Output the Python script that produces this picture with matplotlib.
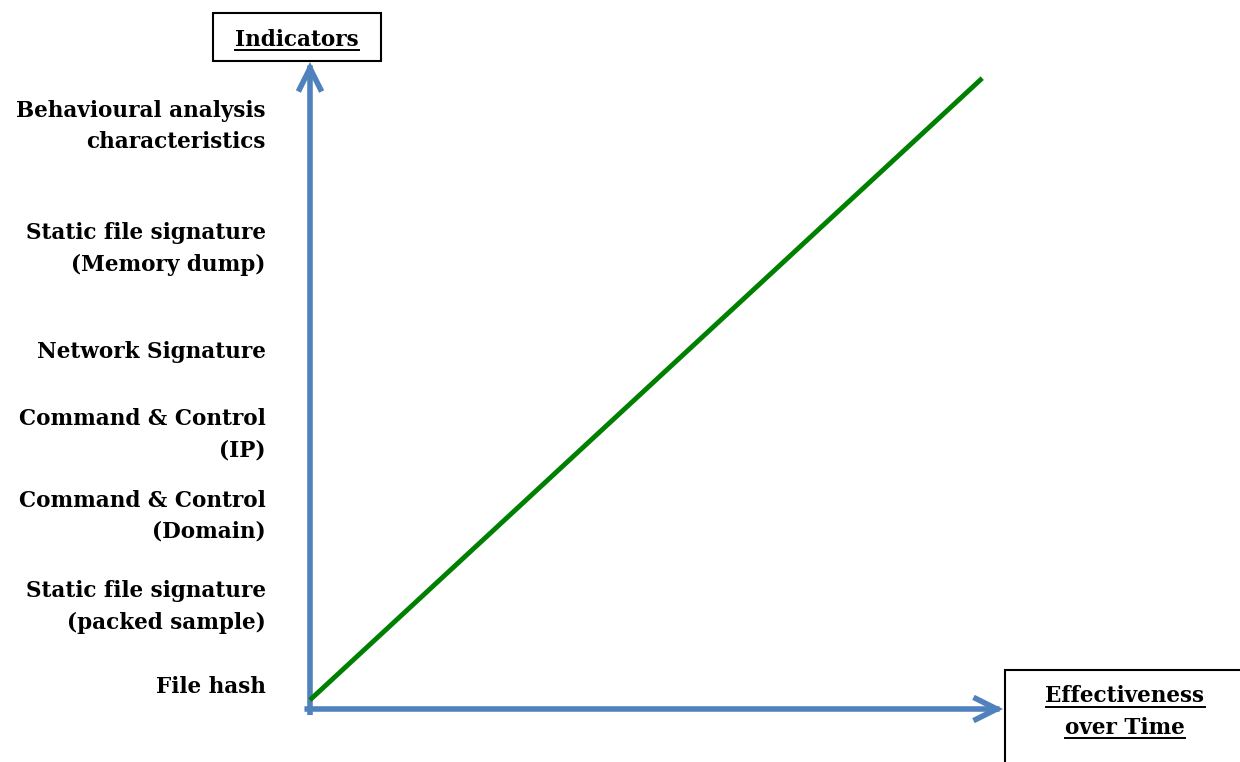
import matplotlib
matplotlib.use("Agg")
import matplotlib.pyplot as plt
from matplotlib.patches import Rectangle
from matplotlib.lines import Line2D

# indicator labels, bottom to top, with their height on the y axis (0..1)
indicators = ["File hash",
              "Static file signature\n(packed sample)",
              "Command & Control\n(Domain)",
              "Command & Control\n(IP)",
              "Network Signature",
              "Static file signature\n(Memory dump)",
              "Behavioural analysis\ncharacteristics"]
indicator_pos = [0.034, 0.158, 0.298, 0.424, 0.552, 0.711, 0.900]

# the trend line: effectiveness (x) against indicator level (y)
trend_x = [0.0, 0.970]
trend_y = [0.014, 0.975]

y_title = "Indicators"
x_title = "Effectiveness\nover Time"

W, H = 1240, 762
FONT = "DejaVu Serif"
BLUE = "#4F81BD"
FS = 15.5


def px(x, y):
    # pixel position (from top-left) to figure fraction
    return x / W, 1 - y / H


def boxed_title(fig, text, center, box):
    x0, y0, x1, y1 = box
    fx0, fy1 = px(x0, y0)
    fx1, fy0 = px(x1, y1)
    fig.patches.append(Rectangle((fx0, fy0), fx1 - fx0, fy1 - fy0,
                                 transform=fig.transFigure, fill=False,
                                 edgecolor="black", linewidth=1.5))
    cx, cy = px(*center)
    lines = text.split("\n")
    step = 31 / H
    top = cy + step * (len(lines) - 1) / 2
    texts = []
    for i, line in enumerate(lines):
        t = fig.text(cx, top - i * step, line, ha="center", va="center",
                     fontsize=FS, fontweight="bold", family=FONT)
        texts.append(t)
    return texts


def underline(fig, texts):
    fig.canvas.draw()
    r = fig.canvas.get_renderer()
    inv = fig.transFigure.inverted()
    for t in texts:
        bb = t.get_window_extent(r)
        (a, b), (c, d) = inv.transform([(bb.x0, bb.y0 + 1), (bb.x1, bb.y0 + 1)])
        fig.lines.append(Line2D([a, c], [b, d], transform=fig.transFigure,
                                color="black", linewidth=1.4))


fig = plt.figure(figsize=(12.4, 7.62), dpi=100)
left, top = px(310, 62)
right, bottom = px(1003, 709)
ax = fig.add_axes([left, bottom, right - left, top - bottom])
ax.set_xlim(0, 1)
ax.set_ylim(0, 1)
for s in ax.spines.values():
    s.set_visible(False)
ax.set_xticks([])
ax.set_yticks(indicator_pos)
ax.set_yticklabels(indicators, fontsize=FS, fontweight="bold", family=FONT,
                   linespacing=1.55)
for lab in ax.get_yticklabels():
    lab.set_verticalalignment("center")
ax.tick_params(axis="y", length=0, pad=32)

# axis arrows
arrow = dict(arrowstyle="->,head_length=1.5,head_width=0.75", lw=4,
             color=BLUE, shrinkA=0, shrinkB=0, capstyle="projecting",
             joinstyle="miter")
ax.annotate("", xy=(0, 1), xytext=(0, -0.005), xycoords="data",
            arrowprops=arrow, annotation_clip=False)
ax.annotate("", xy=(1, 0), xytext=(-0.004, 0), xycoords="data",
            arrowprops=arrow, annotation_clip=False)

ax.plot(trend_x, trend_y, color="#008000", linewidth=3.5,
        solid_capstyle="butt", clip_on=False, zorder=3)

t1 = boxed_title(fig, y_title, (297, 40), (213, 13, 381, 61))
t2 = boxed_title(fig, x_title, (1125, 712), (1005, 670, 1260, 790))
underline(fig, t1 + t2)

fig.savefig("out.png", dpi=100)
